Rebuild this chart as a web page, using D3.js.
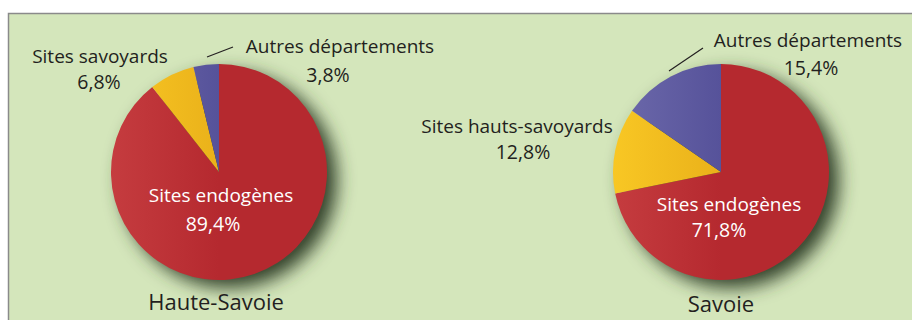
<!DOCTYPE html>
<html>
<head>
<meta charset="utf-8">
<script src="https://cdn.jsdelivr.net/npm/d3@7"></script>
<style>
  html, body { margin: 0; padding: 0; background: #ffffff; }
  svg { display: block; }
  text { font-family: "Open Sans", "Noto Sans", sans-serif; }
</style>
</head>
<body>
<svg id="chart" width="912" height="320"></svg>
<script>
// Origine des sites fréquentés, par département
const regions = ["Haute-Savoie", "Savoie"];
const hauteSavoieLabels = ["Sites endogènes", "Sites savoyards", "Autres départements"];
const hauteSavoieValues = [89.4, 6.8, 3.8];
const savoieLabels = ["Sites endogènes", "Sites hauts-savoyards", "Autres départements"];
const savoieValues = [71.8, 12.8, 15.4];

const sliceColors = [
  { light: "#c53c3f", base: "#b5292f" },
  { light: "#f8c724", base: "#eab11a" },
  { light: "#6d6aab", base: "#56529a" }
];

const svg = d3.select("#chart");
const W = 912, H = 320;

// panneau de fond
svg.append("rect").attr("x", 0).attr("y", 0).attr("width", W).attr("height", H).attr("fill", "#ffffff");
svg.append("rect")
  .attr("x", 8.5).attr("y", 13.5).attr("width", W + 20).attr("height", H + 20)
  .attr("fill", "#d4e6bb").attr("stroke", "#8a8a8a").attr("stroke-width", 1.5);

const defs = svg.append("defs");
const shadow = defs.append("filter").attr("id", "pieShadow")
  .attr("x", "-40%").attr("y", "-40%").attr("width", "180%").attr("height", "180%");
shadow.append("feGaussianBlur").attr("in", "SourceAlpha").attr("stdDeviation", 9).attr("result", "blur");
shadow.append("feOffset").attr("in", "blur").attr("dx", 10).attr("dy", 8).attr("result", "off");
shadow.append("feFlood").attr("flood-color", "#33422b").attr("flood-opacity", 1);
shadow.append("feComposite").attr("in2", "off").attr("operator", "in");

const radius = 108;
const pie = d3.pie().sort(null).value(d => d.value);
const arc = d3.arc().innerRadius(0).outerRadius(radius);

// placement des étiquettes autour de chaque camembert (relatif au centre)
const layouts = [
  {
    cx: 219, cy: 172,
    labels: [
      { name: [2, 30], value: [-6, 59], fill: "#ffffff" },
      { name: [-119, -109], value: [-120, -83], fill: "#231f20" },
      { name: [121, -119], value: [109, -90], fill: "#231f20" }
    ],
    leader: [[-12, -115], [14, -125]],
    title: [-3, 138]
  },
  {
    cx: 721, cy: 172,
    labels: [
      { name: [8, 39], value: [-2, 65], fill: "#ffffff" },
      { name: [-204, -39], value: [-198, -13], fill: "#231f20" },
      { name: [87, -125], value: [90, -97], fill: "#231f20" }
    ],
    leader: [[-52, -101], [-18, -124]],
    title: [0, 140]
  }
];

const datasets = [
  hauteSavoieLabels.map((l, i) => ({ label: l, value: hauteSavoieValues[i] })),
  savoieLabels.map((l, i) => ({ label: l, value: savoieValues[i] }))
];

const fmt = v => d3.format(".1f")(v).replace(".", ",") + "%";

datasets.forEach((data, k) => {
  const L = layouts[k];
  const g = svg.append("g").attr("transform", `translate(${L.cx},${L.cy})`);

  sliceColors.forEach((c, i) => {
    const grad = defs.append("linearGradient")
      .attr("id", `grad-${k}-${i}`)
      .attr("gradientUnits", "userSpaceOnUse")
      .attr("x1", -radius).attr("y1", 0).attr("x2", 0).attr("y2", 0);
    grad.append("stop").attr("offset", 0).attr("stop-color", c.light);
    grad.append("stop").attr("offset", 1).attr("stop-color", c.base);
  });

  // ombre portée
  g.append("circle").attr("r", radius).attr("fill", "#000").attr("filter", "url(#pieShadow)");

  g.selectAll("path.slice")
    .data(pie(data))
    .join("path")
    .attr("class", "slice")
    .attr("d", arc)
    .attr("fill", (d, i) => `url(#grad-${k}-${i})`);

  // trait de rappel pour la petite part
  g.append("line")
    .attr("x1", L.leader[0][0]).attr("y1", L.leader[0][1])
    .attr("x2", L.leader[1][0]).attr("y2", L.leader[1][1])
    .attr("stroke", "#231f20").attr("stroke-width", 1.2);

  data.forEach((d, i) => {
    const p = L.labels[i];
    g.append("text")
      .attr("x", p.name[0]).attr("y", p.name[1])
      .attr("text-anchor", "middle").attr("font-size", 19)
      .attr("fill", p.fill).text(d.label);
    g.append("text")
      .attr("x", p.value[0]).attr("y", p.value[1])
      .attr("text-anchor", "middle").attr("font-size", 19.5)
      .attr("fill", p.fill).text(fmt(d.value));
  });

  g.append("text")
    .attr("x", L.title[0]).attr("y", L.title[1])
    .attr("text-anchor", "middle").attr("font-size", 22)
    .attr("fill", "#231f20").text(regions[k]);
});
</script>
</body>
</html>
